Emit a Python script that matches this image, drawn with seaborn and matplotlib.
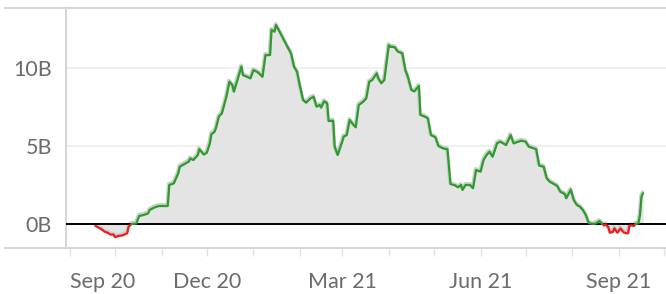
import numpy as np
import pandas as pd
import matplotlib
matplotlib.use("Agg")
import matplotlib.pyplot as plt
import matplotlib.transforms as mtransforms
from matplotlib.lines import Line2D
import seaborn as sns

# daily net value (billions)
dates = [
    "2020-09-18", "2020-09-22", "2020-09-24", "2020-09-26", "2020-09-28", "2020-09-30",
    "2020-10-01", "2020-10-03", "2020-10-06", "2020-10-09", "2020-10-10", "2020-10-12",
    "2020-10-15", "2020-10-17", "2020-10-20", "2020-10-23", "2020-10-24", "2020-10-27",
    "2020-10-30", "2020-11-05", "2020-11-06", "2020-11-09", "2020-11-12", "2020-11-13",
    "2020-11-15", "2020-11-19", "2020-11-20", "2020-11-22", "2020-11-25", "2020-11-26",
    "2020-11-29", "2020-12-01", "2020-12-03", "2020-12-04", "2020-12-06", "2020-12-07",
    "2020-12-09", "2020-12-11", "2020-12-14", "2020-12-16", "2020-12-18", "2020-12-19",
    "2020-12-22", "2020-12-24", "2020-12-25", "2020-12-30", "2021-01-01", "2021-01-04",
    "2021-01-07", "2021-01-09", "2021-01-12", "2021-01-13", "2021-01-15", "2021-01-16",
    "2021-01-19", "2021-01-23", "2021-01-26", "2021-01-28", "2021-01-30", "2021-02-01",
    "2021-02-03", "2021-02-05", "2021-02-08", "2021-02-10", "2021-02-12", "2021-02-14",
    "2021-02-15", "2021-02-17", "2021-02-19", "2021-02-20", "2021-02-23", "2021-02-24",
    "2021-02-26", "2021-03-01", "2021-03-02", "2021-03-04", "2021-03-06", "2021-03-08",
    "2021-03-10", "2021-03-12", "2021-03-15", "2021-03-17", "2021-03-19", "2021-03-21",
    "2021-03-24", "2021-03-25", "2021-03-27", "2021-03-29", "2021-04-01", "2021-04-02",
    "2021-04-05", "2021-04-07", "2021-04-10", "2021-04-12", "2021-04-14", "2021-04-16",
    "2021-04-18", "2021-04-21", "2021-04-22", "2021-04-25", "2021-04-27", "2021-04-29",
    "2021-05-02", "2021-05-04", "2021-05-07", "2021-05-10", "2021-05-12", "2021-05-15",
    "2021-05-17", "2021-05-19", "2021-05-20", "2021-05-22", "2021-05-25", "2021-05-27",
    "2021-05-29", "2021-06-01", "2021-06-03", "2021-06-05", "2021-06-07", "2021-06-09",
    "2021-06-12", "2021-06-14", "2021-06-16", "2021-06-18", "2021-06-21", "2021-06-23",
    "2021-06-25", "2021-06-28", "2021-07-01", "2021-07-03", "2021-07-05", "2021-07-08",
    "2021-07-10", "2021-07-13", "2021-07-15", "2021-07-17", "2021-07-19", "2021-07-22",
    "2021-07-24", "2021-07-27", "2021-07-28", "2021-07-31", "2021-08-02", "2021-08-04",
    "2021-08-06", "2021-08-08", "2021-08-10", "2021-08-12", "2021-08-15", "2021-08-17",
    "2021-08-19", "2021-08-21", "2021-08-22", "2021-08-23", "2021-08-25", "2021-08-26",
    "2021-08-28", "2021-08-29", "2021-08-31", "2021-09-02", "2021-09-04", "2021-09-06",
    "2021-09-07", "2021-09-08", "2021-09-09", "2021-09-11", "2021-09-12", "2021-09-14",
    "2021-09-15", "2021-09-16", "2021-09-17",
]
values = [
    -0.13, -0.34, -0.49, -0.56, -0.68, -0.68,
    -0.85, -0.77, -0.73, -0.60, -0.17, 0.0,
    0.02, 0.51, 0.58, 0.68, 0.90, 1.05,
    1.15, 1.15, 2.50, 2.60, 3.25, 3.67,
    3.78, 4.00, 4.20, 4.10, 4.42, 4.80,
    4.45, 4.57, 5.17, 5.75, 5.90, 6.13,
    6.88, 7.10, 8.16, 9.12, 8.90, 8.48,
    9.44, 10.10, 9.55, 9.34, 9.87, 9.72,
    9.44, 10.83, 10.83, 12.44, 12.33, 12.76,
    12.22, 11.47, 10.94, 10.08, 9.76, 8.80,
    7.95, 7.78, 8.06, 8.16, 7.52, 7.63,
    7.46, 7.87, 7.74, 6.60, 6.62, 4.96,
    4.42, 5.28, 5.60, 5.70, 6.67, 6.41,
    6.20, 7.63, 7.84, 8.06, 9.12, 9.23,
    9.66, 9.34, 9.02, 9.23, 11.47, 11.37,
    11.33, 11.05, 10.94, 9.87, 9.34, 8.59,
    8.50, 8.85, 6.99, 6.88, 6.77, 5.70,
    5.56, 5.00, 4.85, 4.79, 2.56, 2.48,
    2.35, 2.50, 2.18, 2.50, 2.50, 2.29,
    3.46, 3.35, 4.10, 4.42, 4.63, 4.31,
    5.17, 5.28, 5.17, 5.06, 5.70, 5.17,
    5.24, 5.34, 5.28, 4.96, 4.89, 4.79,
    3.74, 3.67, 2.93, 2.71, 2.60, 2.44,
    2.07, 1.92, 1.65, 2.20, 1.54, 1.22,
    1.11, 0.90, 0.58, 0.05, 0.0, 0.05,
    0.19, 0.0, -0.10, -0.02, -0.21, -0.56,
    -0.51, -0.28, -0.56, -0.28, -0.53, -0.60,
    -0.60, -0.13, -0.08, -0.13, 0.0, 0.05,
    0.58, 1.75, 1.97,
]

tick_months = pd.date_range("2020-09-01", "2021-10-01", freq="MS")
label_months = ["2020-09-01", "2020-12-01", "2021-03-01", "2021-06-01", "2021-09-01"]
label_text = ["Sep 20", "Dec 20", "Mar 21", "Jun 21", "Sep 21"]
y_ticks = [0, 5, 10]
y_labels = ["0B", "5B", "10B"]

GREEN = "#2a9d2a"
RED = "#ee1c1c"
FILL = "#e4e4e4"
BORDER = "#d6d6d6"
TEXT = "#6b6b6b"

df = pd.DataFrame({"date": pd.to_datetime(dates), "value": values})

# add the zero crossings so the colour switches right at 0
pts = []
for i in range(len(df)):
    t0, v0 = df.date[i], df.value[i]
    pts.append((t0, v0))
    if i + 1 < len(df):
        t1, v1 = df.date[i + 1], df.value[i + 1]
        if v0 * v1 < 0:
            frac = v0 / (v0 - v1)
            pts.append((t0 + (t1 - t0) * frac, 0.0))

recs = []
run, cur = 0, None
for (t0, v0), (t1, v1) in zip(pts[:-1], pts[1:]):
    s = "pos" if (v0 + v1) / 2 >= 0 else "neg"
    if s != cur:
        run += 1
        cur = s
        recs.append((t0, v0, s, run))
    recs.append((t1, v1, s, run))
seg = pd.DataFrame(recs, columns=["date", "value", "sign", "run"])

sns.set_theme(style="white")
plt.rcParams["font.family"] = ["Lato", "DejaVu Sans"]

fig = plt.figure(figsize=(6.66, 2.94), dpi=100)
ax = fig.add_axes([66 / 666, 1 - 248 / 294, 1 - 66 / 666, 240 / 294])

fx = [p[0] for p in pts]
fy = [p[1] for p in pts]
ax.fill_between(fx, fy, 0, color=FILL, lw=0, zorder=1)
halo = mtransforms.offset_copy(ax.transData, fig=fig, x=-0.5, y=1.2, units="dots")
ax.plot(fx, fy, color="#cdcdcd", lw=2.6, transform=halo, zorder=2, solid_joinstyle="round")

for g in y_ticks[1:]:
    ax.axhline(g, color="#efefef", lw=1.3, zorder=0.5)
ax.axhline(0, color="black", lw=1.4, zorder=3)

sns.lineplot(data=seg, x="date", y="value", hue="sign", units="run", estimator=None,
             palette={"pos": GREEN, "neg": RED}, lw=1.6, legend=False, ax=ax, zorder=4)

ax.set_xlim(pd.Timestamp("2020-09-01") - pd.Timedelta(days=2.66),
            pd.Timestamp("2020-09-01") + pd.Timedelta(days=396.3))
ax.set_ylim(-1.54, 13.85)

labels = [label_text[label_months.index(m.strftime("%Y-%m-%d"))]
          if m.strftime("%Y-%m-%d") in label_months else "" for m in tick_months]
ax.set_xticks(tick_months, labels=labels)
ax.set_yticks(y_ticks, labels=y_labels)
ax.set_xlabel("")
ax.set_ylabel("")
ax.tick_params(axis="x", length=6, width=1, color="#e2e2e2", pad=11,
               labelsize=15.5, labelcolor=TEXT, bottom=True)
ax.tick_params(axis="y", length=0, pad=10, labelsize=15.5, labelcolor=TEXT)
ax.get_xticklabels()[0].set_ha("left")

for side in ["top", "right"]:
    ax.spines[side].set_visible(False)
ax.spines["left"].set_color(BORDER)
ax.spines["left"].set_linewidth(1.5)
ax.spines["bottom"].set_visible(False)

# pane borders running across the whole figure
for yy in [1 - 8 / 294, 1 - 248 / 294]:
    fig.add_artist(Line2D([5 / 666, 1], [yy, yy], color=BORDER, lw=1.5,
                          transform=fig.transFigure))

fig.savefig("out.png", dpi=100)
